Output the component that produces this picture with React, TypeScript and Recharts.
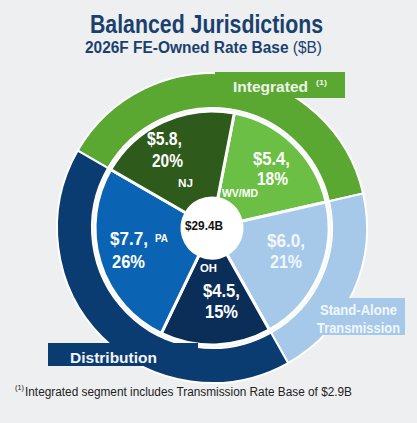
import React from "react";
import { PieChart, Pie, Cell } from "recharts";

// inner ring, clockwise from the top
const jurisdictions = ["WV/MD", "Transmission", "OH", "PA", "NJ"];
const rateBase = [5.4, 6.0, 4.5, 7.7, 5.8];
const shares = ["18%", "21%", "15%", "26%", "20%"];
const innerColors = ["#6bbf44", "#a6c9ea", "#0b2e59", "#0b63b3", "#2e5a1c"];

// outer ring segments (clockwise from the PA/NJ boundary) and their members
const segments = ["Integrated", "Stand-Alone Transmission", "Distribution"];
const segmentMembers = [["NJ", "WV/MD"], ["Transmission"], ["OH", "PA"]];
const outerColors = ["#5aa832", "#a6c9ea", "#0a3c72"];

const total = "$29.4B";

const innerData = jurisdictions.map((name, i) => ({ name, value: rateBase[i] }));
const outerData = segments.map((name, i) => ({
  name,
  value: segmentMembers[i].reduce((s, m) => s + rateBase[jurisdictions.indexOf(m)], 0),
}));

const START = 79;
const sumAll = rateBase.reduce((a, b) => a + b, 0);
// outer ring starts where NJ starts
const OUTER_START = START + (rateBase[4] / sumAll) * 360;

const FONT = "'Liberation Sans', Arial, sans-serif";
const W = 417;
const H = 423;

function T({ x, y, w, size, weight = 700, fill = "#ffffff", children }: any) {
  return (
    <text
      x={x}
      y={y}
      fontSize={size}
      fontWeight={weight}
      fill={fill}
      fontFamily={FONT}
      textLength={w}
      lengthAdjust="spacingAndGlyphs"
    >
      {children}
    </text>
  );
}

const lbl = (i: number) => `$${rateBase[i].toFixed(1)},`;

export default function App() {
  return (
    <div style={{ position: "absolute", left: 0, top: 0, width: W, height: H, background: "#eeeff1" }}>
      <PieChart width={W} height={H}>
        <Pie
          data={outerData}
          dataKey="value"
          cx={207}
          cy={223}
          innerRadius={120}
          outerRadius={155}
          startAngle={OUTER_START}
          endAngle={OUTER_START - 360}
          stroke="#ffffff"
          strokeWidth={2}
          isAnimationActive={false}
        >
          {outerData.map((d, i) => (
            <Cell key={d.name} fill={outerColors[i]} />
          ))}
        </Pie>
        <Pie
          data={innerData}
          dataKey="value"
          cx={207}
          cy={223}
          innerRadius={30}
          outerRadius={117}
          startAngle={START}
          endAngle={START - 360}
          stroke="#ffffff"
          strokeWidth={3}
          isAnimationActive={false}
        >
          {innerData.map((d, i) => (
            <Cell key={d.name} fill={innerColors[i]} />
          ))}
        </Pie>
        <Pie
          data={[{ name: "total", value: 1 }]}
          dataKey="value"
          cx={207}
          cy={223}
          innerRadius={0}
          outerRadius={30}
          fill="#ffffff"
          stroke="none"
          isAnimationActive={false}
        />
      </PieChart>

      <svg width={W} height={H} style={{ position: "absolute", left: 0, top: 0, pointerEvents: "none" }}>
        <T x={90} y={33} w={233} size={25} fill="#1a416e">Balanced Jurisdictions</T>
        <T x={85} y={53} w={237} size={16} fill="#1a416e">
          2026F FE-Owned Rate Base <tspan fontWeight={400}>($B)</tspan>
        </T>

        {/* segment tabs */}
        <rect x={215} y={72} width={130} height={26} fill={outerColors[0]} />
        <T x={233} y={92} w={75} size={15} fill="#eef5e8">{segments[0]}</T>
        <T x={316} y={85} w={11} size={8} fill="#eef5e8">(1)</T>

        <rect x={315} y={298} width={90} height={37} fill={outerColors[1]} />
        <T x={320} y={315} w={77} size={14} fill="#f2f7fc">Stand-Alone</T>
        <T x={317} y={333} w={83} size={14} fill="#f2f7fc">Transmission</T>

        <rect x={48} y={343} width={150} height={23} fill={outerColors[2]} />
        <T x={70} y={363} w={87} size={15} fill="#f2f5f9">{segments[2]}</T>

        {/* NJ */}
        <T x={147} y={145} w={35} size={19}>{lbl(4)}</T>
        <T x={152} y={167} w={31} size={19}>{shares[4]}</T>
        <T x={178} y={187} w={15} size={11}>{jurisdictions[4]}</T>
        {/* WV/MD */}
        <T x={253} y={165} w={37} size={19}>{lbl(0)}</T>
        <T x={257} y={185} w={31} size={19}>{shares[0]}</T>
        <T x={222} y={197} w={36} size={11}>{jurisdictions[0]}</T>
        {/* Transmission */}
        <T x={267} y={247} w={38} size={19} fill="#f2f7fc">{lbl(1)}</T>
        <T x={270} y={268} w={32} size={19} fill="#f2f7fc">{shares[1]}</T>
        {/* PA */}
        <T x={110} y={245} w={38} size={19}>{lbl(3)}</T>
        <T x={112} y={268} w={33} size={19}>{shares[3]}</T>
        <T x={155} y={242} w={13} size={11}>{jurisdictions[3]}</T>
        {/* OH */}
        <T x={200} y={272} w={17} size={11}>{jurisdictions[2]}</T>
        <T x={203} y={297} w={37} size={19}>{lbl(2)}</T>
        <T x={205} y={318} w={33} size={19}>{shares[2]}</T>

        <T x={185} y={230} w={38} size={13} fill="#111111">{total}</T>

        <T x={15} y={390} w={9} size={8} weight={400} fill="#222222">(1)</T>
        <T x={25} y={396} w={327} size={12.5} weight={400} fill="#222222">
          Integrated segment includes Transmission Rate Base of $2.9B
        </T>
      </svg>
    </div>
  );
}
